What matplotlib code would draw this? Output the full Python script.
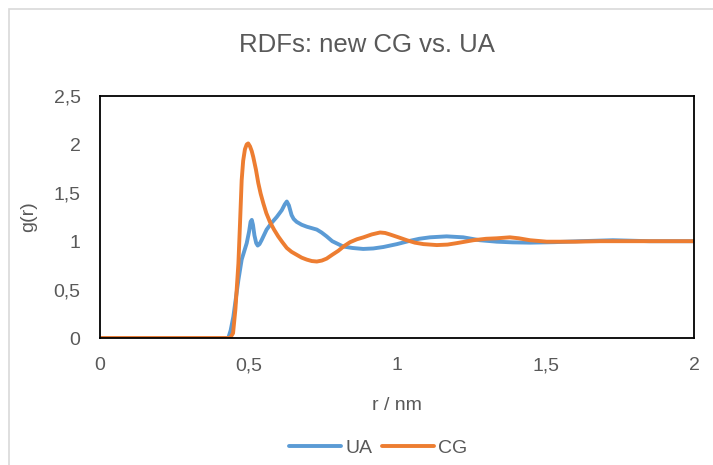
import matplotlib
matplotlib.use("Agg")
import matplotlib.pyplot as plt
from matplotlib.patches import Rectangle

# radial distribution functions, r in nm
r_ua = [0.0, 0.42, 0.432, 0.44, 0.449, 0.457, 0.466, 0.477, 0.486, 0.494, 0.502,
        0.507, 0.511, 0.515, 0.520, 0.526, 0.531, 0.537, 0.544, 0.561, 0.578,
        0.595, 0.612, 0.622, 0.629, 0.636, 0.645, 0.652, 0.662, 0.679, 0.696,
        0.713, 0.730, 0.746, 0.763, 0.782, 0.802, 0.819, 0.85, 0.886, 0.92,
        0.954, 1.0, 1.038, 1.075, 1.111, 1.167, 1.223, 1.279, 1.336, 1.39,
        1.448, 1.53, 1.616, 1.727, 1.85, 2.0]
g_ua = [0.0, 0.0, 0.0, 0.08, 0.22, 0.40, 0.60, 0.81, 0.90, 0.98, 1.10,
        1.20, 1.22, 1.17, 1.06, 0.98, 0.955, 0.97, 1.01, 1.12, 1.19,
        1.25, 1.32, 1.38, 1.41, 1.37, 1.27, 1.23, 1.20, 1.17, 1.15,
        1.135, 1.12, 1.09, 1.05, 1.00, 0.97, 0.945, 0.93, 0.92, 0.925,
        0.94, 0.97, 1.00, 1.025, 1.04, 1.05, 1.04, 1.01, 0.995, 0.988,
        0.985, 0.99, 1.00, 1.01, 1.0, 1.0]

r_cg = [0.0, 0.438, 0.448, 0.456, 0.466, 0.471, 0.477, 0.482, 0.488, 0.494,
        0.499, 0.505, 0.511, 0.516, 0.525, 0.533, 0.541, 0.550, 0.560, 0.572,
        0.586, 0.600, 0.614, 0.629, 0.645, 0.662, 0.679, 0.696, 0.713, 0.730,
        0.747, 0.763, 0.782, 0.802, 0.822, 0.842, 0.865, 0.887, 0.915, 0.943,
        0.96, 0.976, 1.005, 1.033, 1.06, 1.089, 1.134, 1.17, 1.201, 1.257,
        1.30, 1.336, 1.38, 1.41, 1.448, 1.504, 1.6, 1.684, 2.0]
g_cg = [0.0, 0.0, 0.05, 0.30, 0.77, 1.15, 1.63, 1.83, 1.95, 2.0,
        2.01, 1.98, 1.93, 1.87, 1.74, 1.60, 1.49, 1.39, 1.29, 1.20,
        1.12, 1.05, 0.99, 0.93, 0.89, 0.86, 0.83, 0.81, 0.795, 0.79,
        0.80, 0.82, 0.86, 0.90, 0.95, 0.99, 1.02, 1.04, 1.07, 1.09,
        1.085, 1.07, 1.04, 1.01, 0.985, 0.97, 0.96, 0.965, 0.98, 1.01,
        1.025, 1.03, 1.04, 1.03, 1.01, 0.995, 0.995, 1.0, 1.0]

x_ticks = [0, 0.5, 1, 1.5, 2]
x_labels = ["0", "0,5", "1", "1,5", "2"]
y_ticks = [0, 0.5, 1, 1.5, 2, 2.5]
y_labels = ["0", "0,5", "1", "1,5", "2", "2,5"]

plt.rcParams["font.family"] = ["Liberation Sans", "DejaVu Sans"]
grey = "#595959"

W, H = 713, 465
fig = plt.figure(figsize=(W / 100, H / 100), dpi=100)
ax = fig.add_axes([100 / W, 1 - 338 / H, 594 / W, 242 / H])

ax.plot(r_ua, g_ua, color="#5B9BD5", lw=2.8, label="UA",
        solid_capstyle="round", solid_joinstyle="round")
ax.plot(r_cg, g_cg, color="#ED7D31", lw=2.8, label="CG",
        solid_capstyle="round", solid_joinstyle="round")

ax.set_xlim(0, 2)
ax.set_ylim(0, 2.5)
ax.set_xticks(x_ticks, x_labels)
ax.set_yticks(y_ticks, y_labels)
ax.tick_params(length=0, labelsize=14, labelcolor=grey, pad=14)
for s in ax.spines.values():
    s.set_color("black")
    s.set_linewidth(1.3)

ax.set_xlabel("r / nm", fontsize=14, color=grey, labelpad=16)
ax.set_ylabel("g(r)", fontsize=14, color=grey, labelpad=12)
fig.text(367 / W, 1 - 45 / H, "RDFs: new CG vs. UA", fontsize=18.5, color=grey,
         ha="center", va="center")

ax.legend(loc="center", bbox_to_anchor=(378 / W, 1 - 448 / H),
          bbox_transform=fig.transFigure, ncol=2, frameon=False,
          fontsize=14, labelcolor=grey, handlelength=2.7, handletextpad=0.2,
          columnspacing=0.5)

# outer chart border
fig.patches.append(Rectangle((9 / W, -0.5), 2, 1 - 9 / H + 0.5,
                             transform=fig.transFigure, fill=False,
                             ec="#d9d9d9", lw=1.2))

fig.savefig("out.png", dpi=100, facecolor="white")
